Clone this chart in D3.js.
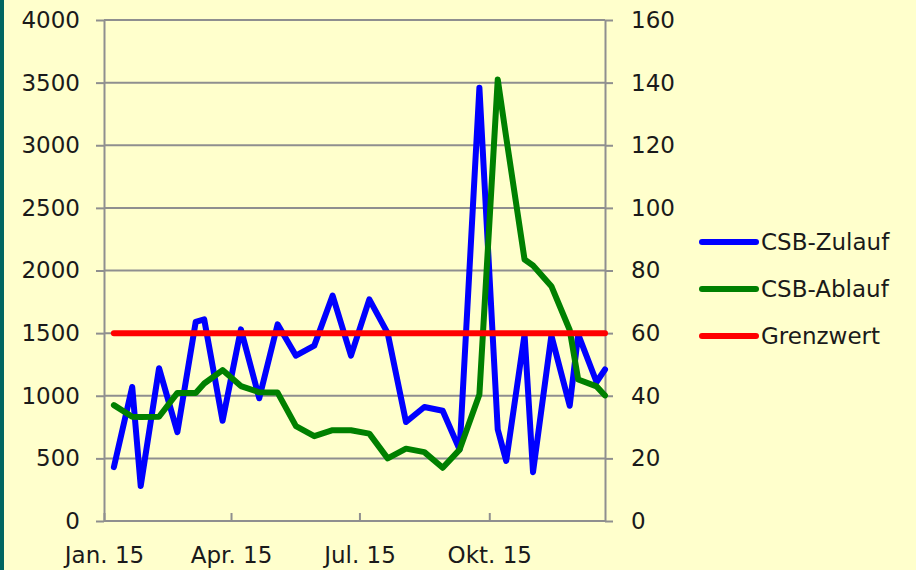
<!DOCTYPE html>
<html>
<head>
<meta charset="utf-8">
<script src="https://cdn.jsdelivr.net/npm/d3@7"></script>
<style>
  html, body { margin: 0; padding: 0; background: #FFFFCC; }
  svg { display: block; }
  text { font-family: "DejaVu Sans", "Noto Sans", sans-serif; fill: #1a1a1a; }
</style>
</head>
<body>
<svg id="chart" width="916" height="570"></svg>
<script>
// ---------- data ----------
const dates = [
  "2015-01-08","2015-01-21","2015-01-27","2015-02-09","2015-02-22","2015-03-07","2015-03-13","2015-03-26",
  "2015-04-08","2015-04-21","2015-05-04","2015-05-17","2015-05-30","2015-06-12","2015-06-25","2015-07-08",
  "2015-07-21","2015-08-03","2015-08-16","2015-08-29","2015-09-10","2015-09-24","2015-10-07","2015-10-13",
  "2015-10-26","2015-11-01","2015-11-14","2015-11-27","2015-12-03","2015-12-16","2015-12-22"
];
const csbZulauf = [
  430, 1070, 280, 1220, 710, 1590, 1610, 800,
  1530, 980, 1570, 1320, 1400, 1800, 1320, 1770,
  1500, 790, 910, 880, 570, 3460, 730, 480,
  1490, 390, 1480, 920, 1490, 1110, 1210
];
const csbAblauf = [
  37, 33.3, 33.2, 33.3, 40.9, 40.9, 43.9, 48.2,
  43.1, 41.1, 41, 30.3, 27.1, 29, 29, 27.9,
  20, 23.1, 22, 17, 22.8, 40.4, 141, 122.5,
  83.5, 81.6, 75, 61, 45.2, 43, 40.1
];
const grenzwert = [
  1500, 1500, 1500, 1500, 1500, 1500, 1500, 1500,
  1500, 1500, 1500, 1500, 1500, 1500, 1500, 1500,
  1500, 1500, 1500, 1500, 1500, 1500, 1500, 1500,
  1500, 1500, 1500, 1500, 1500, 1500, 1500
];
const leftTicks = [0, 500, 1000, 1500, 2000, 2500, 3000, 3500, 4000];
const rightTicks = [0, 20, 40, 60, 80, 100, 120, 140, 160];
const xTickDates = ["2015-01-01", "2015-04-01", "2015-07-01", "2015-10-01"];
const xTickLabels = ["Jan. 15", "Apr. 15", "Jul. 15", "Okt. 15"];
const seriesNames = ["CSB-Zulauf", "CSB-Ablauf", "Grenzwert"];
const seriesColors = ["#0000FF", "#008000", "#FF0000"];

// ---------- setup ----------
const parse = d3.timeParse("%Y-%m-%d");
const svg = d3.select("#chart");
const W = 916, H = 570;
const plot = { left: 104, right: 605, top: 20, bottom: 521 };
const fontSize = "23px";

svg.append("rect").attr("width", W).attr("height", H).attr("fill", "#FFFFCC");
svg.append("rect").attr("x", 0).attr("y", 0).attr("width", 4).attr("height", H).attr("fill", "#006660");

const x = d3.scaleTime()
  .domain([parse("2015-01-01"), parse("2015-12-22")])
  .range([plot.left, plot.right]);
const yL = d3.scaleLinear().domain([0, 4000]).range([plot.bottom, plot.top]);
const yR = d3.scaleLinear().domain([0, 160]).range([plot.bottom, plot.top]);

const gridColor = "#8f8f8f";

// gridlines
svg.append("g").selectAll("line").data(leftTicks).join("line")
  .attr("x1", plot.left).attr("x2", plot.right)
  .attr("y1", d => yL(d)).attr("y2", d => yL(d))
  .attr("stroke", gridColor).attr("stroke-width", 2);

// left axis
const gL = svg.append("g").attr("transform", `translate(${plot.left},0)`)
  .call(d3.axisLeft(yL).tickValues(leftTicks).tickFormat(d3.format("d"))
    .tickSizeInner(8).tickSizeOuter(0).tickPadding(16));
gL.select(".domain").attr("stroke", gridColor).attr("stroke-width", 2);
gL.selectAll(".tick line").attr("stroke", gridColor).attr("stroke-width", 2);
gL.selectAll(".tick text").style("font-size", fontSize).attr("fill", "#1a1a1a");

// right axis
const gR = svg.append("g").attr("transform", `translate(${plot.right},0)`)
  .call(d3.axisRight(yR).tickValues(rightTicks).tickFormat(d3.format("d"))
    .tickSizeInner(8).tickSizeOuter(0).tickPadding(18));
gR.select(".domain").attr("stroke", gridColor).attr("stroke-width", 2);
gR.selectAll(".tick line").attr("stroke", gridColor).attr("stroke-width", 2);
gR.selectAll(".tick text").style("font-size", fontSize).attr("fill", "#1a1a1a");

// bottom axis
const gB = svg.append("g").attr("transform", `translate(0,${plot.bottom})`)
  .call(d3.axisBottom(x).tickValues(xTickDates.map(parse))
    .tickFormat((d, i) => xTickLabels[i]).tickSizeInner(-8).tickSizeOuter(0));
gB.select(".domain").remove();
gB.selectAll(".tick line").attr("stroke", gridColor).attr("stroke-width", 2);
gB.selectAll(".tick text").style("font-size", fontSize).attr("fill", "#1a1a1a")
  .attr("y", 42).attr("dy", 0);

// lines
const pts = dates.map(parse);
const lineL = d3.line().x((d, i) => x(pts[i])).y(d => yL(d));
const lineR = d3.line().x((d, i) => x(pts[i])).y(d => yR(d));

const drawLine = (data, gen, color) => svg.append("path")
  .datum(data).attr("d", gen).attr("fill", "none")
  .attr("stroke", color).attr("stroke-width", 6)
  .attr("stroke-linejoin", "round").attr("stroke-linecap", "round");

drawLine(csbZulauf, lineL, seriesColors[0]);
drawLine(csbAblauf, lineR, seriesColors[1]);
drawLine(grenzwert, lineL, seriesColors[2]);

// legend
const legend = svg.append("g");
const legendY = [242, 289, 336];
seriesNames.forEach((name, i) => {
  legend.append("line")
    .attr("x1", 702).attr("x2", 756).attr("y1", legendY[i]).attr("y2", legendY[i])
    .attr("stroke", seriesColors[i]).attr("stroke-width", 6).attr("stroke-linecap", "round");
  legend.append("text").attr("x", 761).attr("y", legendY[i]).attr("dy", "0.35em")
    .style("font-size", fontSize).text(name);
});
</script>
</body>
</html>
